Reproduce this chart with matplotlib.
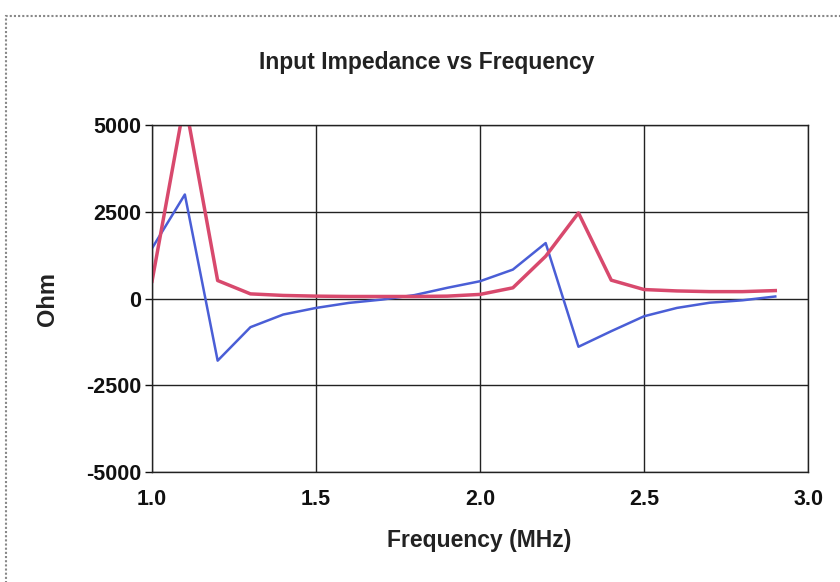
import matplotlib.pyplot as plt
from matplotlib.patches import Rectangle

# frequency sweep in MHz
freq = [1.0, 1.1, 1.2, 1.3, 1.4, 1.5, 1.6, 1.7, 1.8, 1.9,
        2.0, 2.1, 2.2, 2.3, 2.4, 2.5, 2.6, 2.7, 2.8, 2.9]

# resistive part (ohm)
resistance = [500, 5700, 520, 135, 90, 70, 60, 60, 60, 70,
              120, 310, 1220, 2470, 530, 260, 220, 200, 200, 230]

# reactive part (ohm)
reactance = [1450, 3000, -1790, -825, -460, -270, -125, -30, 100, 310,
             500, 835, 1600, -1390, -940, -510, -270, -120, -50, 60]

xticks = [1.0, 1.5, 2.0, 2.5, 3.0]
yticks = [-5000, -2500, 0, 2500, 5000]

plt.rcParams['font.family'] = ['Liberation Sans', 'DejaVu Sans']
plt.rcParams['font.weight'] = 'bold'

fig = plt.figure(figsize=(8.4, 5.82), dpi=100)
ax = fig.add_axes([0.181, 0.189, 0.781, 0.596])

ax.plot(freq, reactance, color='#4a5ed6', lw=1.8)
ax.plot(freq, resistance, color='#d8496d', lw=2.5)

ax.set_xlim(1.0, 3.0)
ax.set_ylim(-5000, 5000)
ax.set_xticks(xticks)
ax.set_xticklabels(['%.1f' % t for t in xticks])
ax.set_yticks(yticks)
ax.set_yticklabels(['%d' % t for t in yticks])  # plain hyphen for negatives
ax.grid(True, color='#222222', lw=1.0)
for s in ax.spines.values():
    s.set_color('#222222')
    s.set_linewidth(1.0)
ax.tick_params(axis='both', labelsize=15.5, colors='#111111', length=5, width=1.0)
ax.tick_params(axis='y', pad=3)
ax.tick_params(axis='x', length=0, pad=12)

fig.text(0.508, 0.893, 'Input Impedance vs Frequency', fontsize=16.5,
         fontweight='bold', color='#222222', ha='center', va='center')
fig.text(0.571, 0.072, 'Frequency (MHz)', fontsize=16.5,
         fontweight='bold', color='#222222', ha='center', va='center')
fig.text(0.056, 0.486, 'Ohm', fontsize=17, rotation=90,
         fontweight='bold', color='#222222', ha='center', va='center')

# chart border
fig.patches.append(Rectangle((0.007, -0.05), 1.1, 1.022, transform=fig.transFigure,
                             fill=False, ec='#888888', lw=1.5, ls=(0, (1, 1))))

fig.savefig('out.png', dpi=100)
